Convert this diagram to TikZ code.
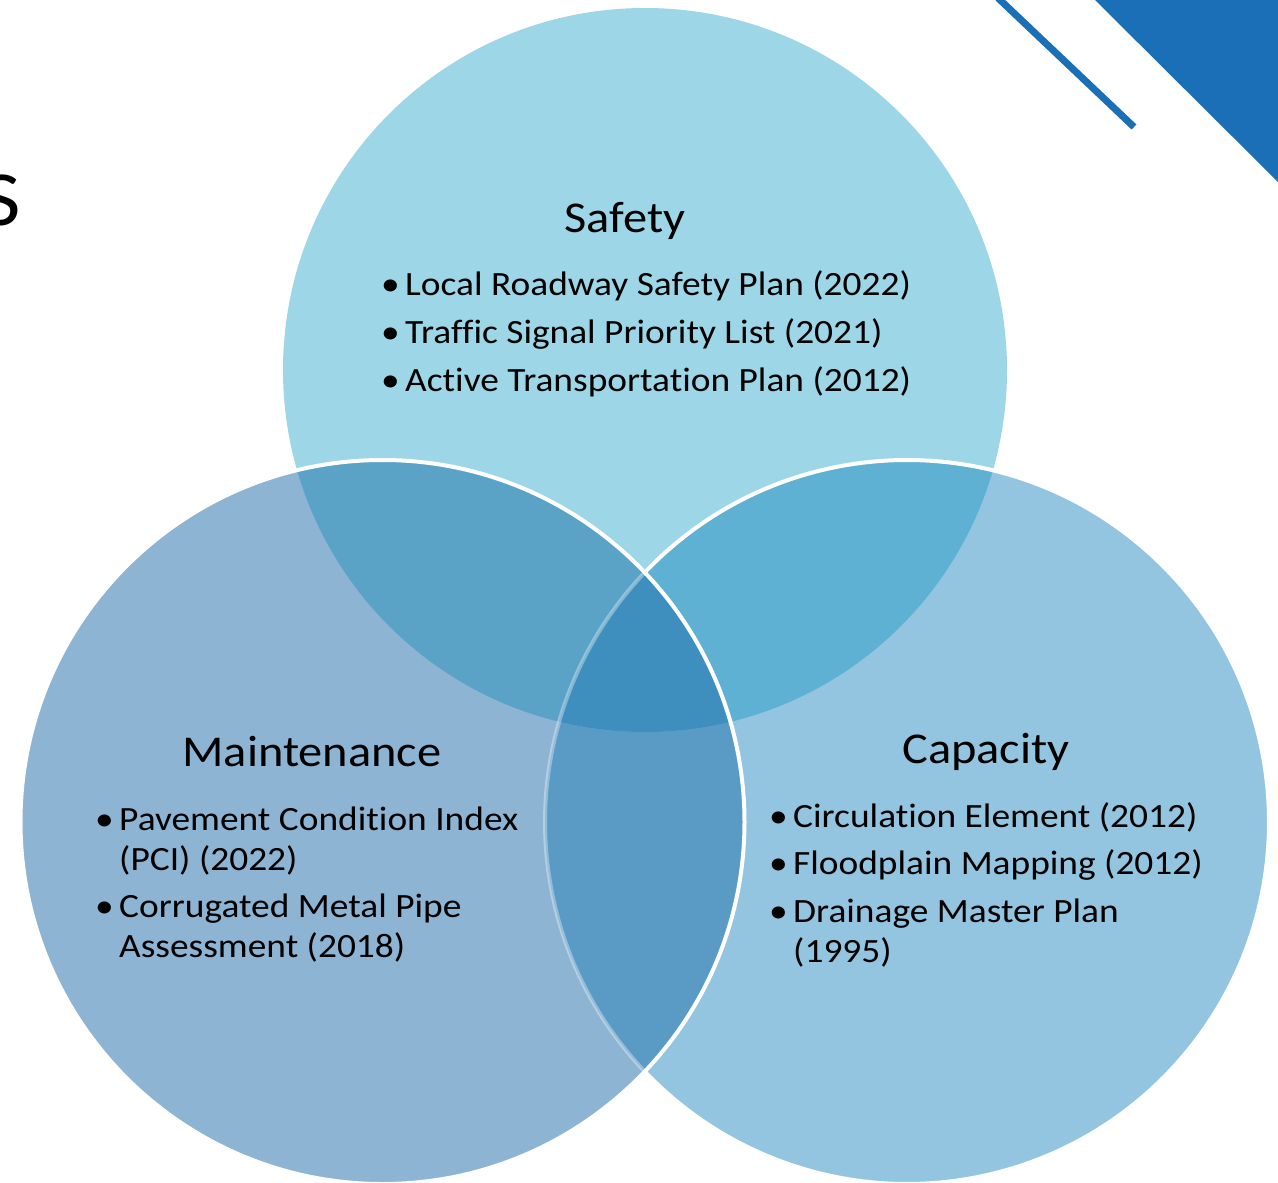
\documentclass[tikz,border=0pt]{standalone}
\usepackage{fontspec}
\setmainfont{Carlito}[FakeStretch=1.1,Ligatures=NoCommon]
\definecolor{safec}{HTML}{9CD6E7}
\definecolor{mntc}{HTML}{8DB4D3}
\definecolor{capc}{HTML}{93C5E0}
\definecolor{smc}{HTML}{5AA3C7}
\definecolor{scc}{HTML}{5EB1D3}
\definecolor{mcc}{HTML}{5A9BC6}
\definecolor{allc}{HTML}{3E8FBD}
\definecolor{decoblue}{HTML}{1B6FB7}
\begin{document}
\begin{tikzpicture}[x=1pt,y=1pt,
  wline/.style={draw=white,line width=4pt},
  ttl/.style={anchor=base,inner sep=0pt,font=\fontsize{44}{53}\selectfont},
  itm/.style={anchor=base west,inner sep=0pt,font=\fontsize{34}{41}\selectfont},
  bul/.style={anchor=base west,inner sep=0pt,font=\fontsize{34}{41}\selectfont}]
\useasboundingbox (0,0) rectangle (1278,-1183);
\coordinate (cS) at (645,-370);
\coordinate (cM) at (382.5,-822);
\coordinate (cC) at (907,-822);
% decoration
\fill[decoblue] (1093,2) -- (1280,2) -- (1280,-184) -- cycle;
\draw[decoblue,line width=7pt] (998,2) -- (1134,-127);
% base circles
\fill[safec] (cS) circle[radius=362pt];
\fill[capc] (cC) circle[radius=362pt];
\fill[mntc] (cM) circle[radius=362pt];
% overlaps
\begin{scope}
  \clip (cM) circle[radius=362pt];
  \fill[mcc] (cC) circle[radius=362pt];
\end{scope}
\begin{scope}
  \clip (cS) circle[radius=362pt];
  \fill[smc] (cM) circle[radius=362pt];
  \fill[scc] (cC) circle[radius=362pt];
  \clip (cM) circle[radius=362pt];
  \fill[allc] (cC) circle[radius=362pt];
\end{scope}
% outlines
\draw[wline] (cC) ++(136.4:362pt) arc[start angle=136.4,end angle=-136.4,radius=362pt];
\draw[wline,draw opacity=0.35] (cC) ++(136.4:362pt) arc[start angle=136.4,end angle=223.6,radius=362pt];
\draw[wline] (cM) circle[radius=362pt];
% cut-off title letter
\node[anchor=base east,inner sep=0pt,font=\fontsize{78}{90}\selectfont] (ttlS) at (21,-225) {S};
% Safety
\node[ttl] (tS) at (625,-232) {Safety};
\node[bul] (bS1) at (381,-295) {•};
\node[itm] (s1) at (405,-295) {Local Roadway Safety Plan (2022)};
\node[bul] (bS2) at (381,-343) {•};
\node[itm] (s2) at (405,-343) {Traffic Signal Priority List (2021)};
\node[bul] (bS3) at (381,-391) {•};
\node[itm] (s3) at (405,-391) {Active Transportation Plan (2012)};
% Maintenance
\node[ttl] (tM) at (312,-766) {Maintenance};
\node[bul] (bM1) at (95,-830) {•};
\node[itm] (m1) at (119,-830) {Pavement Condition Index};
\node[itm] (m1b) at (119,-870) {(PCI) (2022)};
\node[bul] (bM2) at (95,-917) {•};
\node[itm] (m2) at (119,-917) {Corrugated Metal Pipe};
\node[itm] (m2b) at (119,-957) {Assessment (2018)};
% Capacity
\node[ttl] (tC) at (986,-763) {Capacity};
\node[bul] (bC1) at (769,-827) {•};
\node[itm] (c1) at (793,-827) {Circulation Element (2012)};
\node[bul] (bC2) at (769,-874) {•};
\node[itm] (c2) at (793,-874) {Floodplain Mapping (2012)};
\node[bul] (bC3) at (769,-922) {•};
\node[itm] (c3) at (793,-922) {Drainage Master Plan};
\node[itm] (c3b) at (793,-962) {(1995)};
\end{tikzpicture}
\end{document}
